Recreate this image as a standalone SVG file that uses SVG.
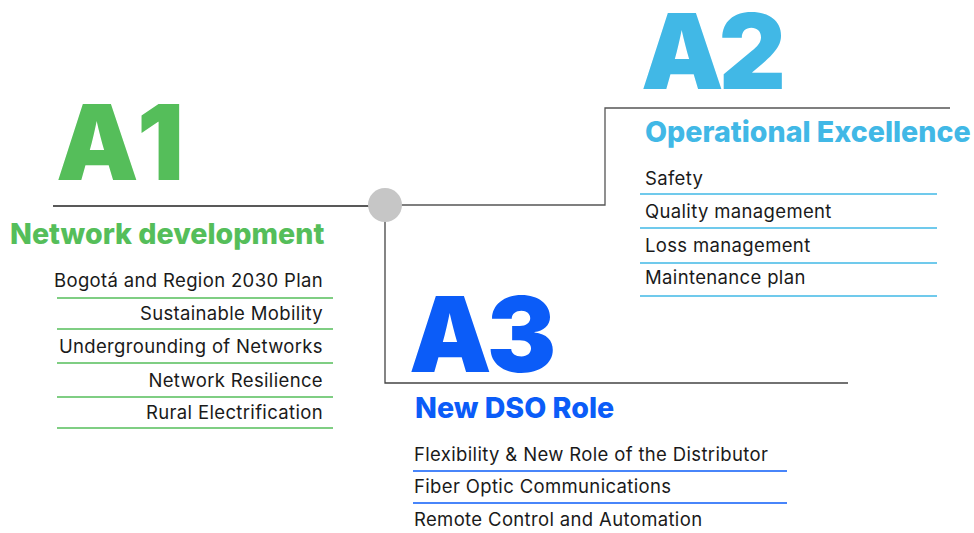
<svg xmlns="http://www.w3.org/2000/svg" width="974" height="533" viewBox="0 0 974 533">
<style>
.big{font-family:Inter,"Liberation Sans",sans-serif;font-weight:900;font-size:104px;letter-spacing:-5px}
.head{font-family:Inter,"Liberation Sans",sans-serif;font-weight:800;font-size:28.6px}
.item{font-family:Inter,"Liberation Sans",sans-serif;font-weight:400;font-size:18.5px;letter-spacing:0.35px;fill:#1a1a1a}
.g{fill:#55BE5A}.lb{fill:#41B8E6}.db{fill:#0B5CF8}
.gl{stroke:#55BE5A;stroke-width:1.3}.ll{stroke:#41B8E6;stroke-width:1.3}.dl{stroke:#0B5CF8;stroke-width:1.3}
</style>
<rect width="974" height="533" fill="#fff"/>
<g id="connectors" fill="none">
<line x1="53" y1="206" x2="370" y2="206" stroke="#222" stroke-width="1.3"/>
<polyline points="400,205 605,205 605,108 950,108" stroke="#555" stroke-width="1.3"/>
<polyline points="385,220 385,383 848,383" stroke="#444" stroke-width="1.3"/>
</g>
<g id="hub"><circle cx="385" cy="205" r="17" fill="#C6C6C6"/></g>
<g id="A1">
<text class="big g" x="56" y="180" style="letter-spacing:5px">A1</text>
<text class="head g" x="10" y="244">Network development</text>
<g text-anchor="end">
<text class="item" x="323" y="287">Bogotá and Region 2030 Plan</text>
<text class="item" x="323" y="320">Sustainable Mobility</text>
<text class="item" x="323" y="353">Undergrounding of Networks</text>
<text class="item" x="323" y="387">Network Resilience</text>
<text class="item" x="323" y="419">Rural Electrification</text>
</g>
<line class="gl" x1="57" y1="298" x2="333" y2="298"/>
<line class="gl" x1="57" y1="329" x2="333" y2="329"/>
<line class="gl" x1="57" y1="363" x2="333" y2="363"/>
<line class="gl" x1="57" y1="397" x2="333" y2="397"/>
<line class="gl" x1="57" y1="428" x2="333" y2="428"/>
</g>
<g id="A2">
<text class="big lb" x="641" y="89">A2</text>
<text class="head lb" x="645" y="142">Operational Excellence</text>
<text class="item" x="645" y="185">Safety</text>
<text class="item" x="645" y="218">Quality management</text>
<text class="item" x="645" y="252">Loss management</text>
<text class="item" x="645" y="284">Maintenance plan</text>
<line class="ll" x1="640" y1="194" x2="937" y2="194"/>
<line class="ll" x1="640" y1="228" x2="937" y2="228"/>
<line class="ll" x1="640" y1="263" x2="937" y2="263"/>
<line class="ll" x1="640" y1="296" x2="937" y2="296"/>
</g>
<g id="A3">
<text class="big db" x="409" y="372">A3</text>
<text class="head db" x="415" y="418">New DSO Role</text>
<text class="item" x="414" y="461">Flexibility &amp; New Role of the Distributor</text>
<text class="item" x="414" y="493">Fiber Optic Communications</text>
<text class="item" x="414" y="526">Remote Control and Automation</text>
<line class="dl" x1="413" y1="471" x2="787" y2="471"/>
<line class="dl" x1="413" y1="503" x2="787" y2="503"/>
</g>
</svg>
